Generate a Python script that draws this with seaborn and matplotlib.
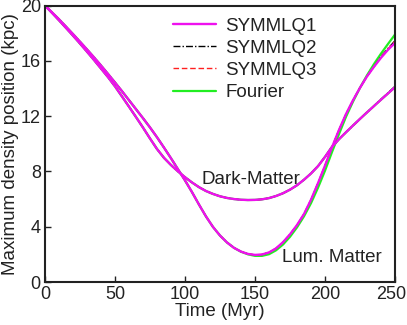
import numpy as np
import pandas as pd
import matplotlib
matplotlib.use("Agg")
import matplotlib.pyplot as plt
import matplotlib.transforms as mtransforms
import seaborn as sns

# ---- data ----
time_myr = [0, 5, 10, 15, 20, 25, 30, 35, 40, 45, 50, 55, 60, 65, 70, 75, 80, 85, 90, 95,
            100, 105, 110, 115, 120, 125, 130, 135, 140, 145, 150, 155, 160, 165, 170, 175,
            180, 185, 190, 195, 200, 205, 210, 215, 220, 225, 230, 235, 240, 245, 250]

dark_symmlq1 = [20.0, 19.47, 18.93, 18.38, 17.82, 17.25, 16.66, 16.06, 15.44, 14.82,
                14.15, 13.42, 12.68, 11.93, 11.17, 10.38, 9.62, 8.98, 8.46, 8.0,
                7.58, 7.2, 6.86, 6.58, 6.37, 6.2, 6.08, 6.0, 5.95, 5.93,
                5.94, 5.98, 6.07, 6.22, 6.42, 6.68, 7.0, 7.4, 7.85, 8.38,
                9.05, 9.78, 10.33, 10.83, 11.32, 11.8, 12.27, 12.73, 13.19, 13.64, 14.1]
lum_symmlq1 = [20.0, 19.5, 19.0, 18.47, 17.93, 17.38, 16.82, 16.25, 15.66, 15.05,
               14.43, 13.8, 13.15, 12.5, 11.85, 11.18, 10.47, 9.72, 8.95, 8.15,
               7.35, 6.5, 5.6, 4.74, 3.98, 3.36, 2.86, 2.47, 2.2, 2.03,
               1.96, 1.99, 2.14, 2.43, 2.88, 3.45, 4.12, 4.92, 5.95, 7.15,
               8.42, 9.75, 11.0, 12.15, 13.15, 14.05, 14.87, 15.57, 16.22, 16.8, 17.3]

dark_symmlq2 = dark_symmlq1[:-3] + [13.22, 13.68, 14.15]
lum_symmlq2 = lum_symmlq1[:-3] + [16.3, 16.9, 17.45]

dark_symmlq3 = list(dark_symmlq1)
lum_symmlq3 = lum_symmlq1[:-3] + [16.28, 16.87, 17.42]

dark_fourier = list(dark_symmlq1)
lum_fourier = lum_symmlq1[:28] + [2.19, 2.0, 1.89, 1.89, 2.01, 2.29, 2.71, 3.27,
                                  3.95, 4.75, 5.7, 6.82, 8.05, 9.4, 10.7, 11.95, 13.05,
                                  14.05, 14.95, 15.77, 16.52, 17.22, 17.9]

series_names = ["SYMMLQ1", "SYMMLQ2", "SYMMLQ3", "Fourier"]
x_ticks = [0, 50, 100, 150, 200, 250]
y_ticks = [0, 4, 8, 12, 16, 20]

# ---- style ----
sns.set_style("ticks")
plt.rcParams["font.family"] = ["Liberation Sans", "DejaVu Sans"]
text_color = "#222222"
fs = 13.5

fig = plt.figure(figsize=(4.07, 3.25), dpi=100)
ax = fig.add_axes([0.1106, 0.1323, 0.8599, 0.8507])

styles = {
    "Fourier": dict(color="#22ee22", lw=1.6, ls="-"),
    "SYMMLQ2": dict(color="black", lw=1.0, ls=(0, (5, 1.5, 1, 1.5))),
    "SYMMLQ3": dict(color="#ff2020", lw=1.0, ls=(0, (4, 2))),
    "SYMMLQ1": dict(color="#ee11ee", lw=1.7, ls="-"),
}
data = {
    "SYMMLQ1": (dark_symmlq1, lum_symmlq1),
    "SYMMLQ2": (dark_symmlq2, lum_symmlq2),
    "SYMMLQ3": (dark_symmlq3, lum_symmlq3),
    "Fourier": (dark_fourier, lum_fourier),
}

handles = {}
for name in ["Fourier", "SYMMLQ2", "SYMMLQ3", "SYMMLQ1"]:
    dark, lum = data[name]
    st = styles[name]
    for comp in (dark, lum):
        df = pd.DataFrame({"t": time_myr, "y": comp})
        sns.lineplot(data=df, x="t", y="y", ax=ax, color=st["color"],
                     linewidth=st["lw"], linestyle=st["ls"])
    handles[name] = ax.lines[-1]

leg = ax.legend([handles[n] for n in series_names], series_names,
                loc="upper left", bbox_to_anchor=(0.366, 0.957), frameon=False,
                fontsize=fs, handlelength=2.3, handletextpad=0.5,
                labelspacing=0.27, borderaxespad=0.0, borderpad=0.0)
for t in leg.get_texts():
    t.set_color(text_color)

ax.text(112, 7.4, "Dark-Matter", fontsize=fs, color=text_color, va="center", ha="left")
ax.text(169, 1.75, "Lum. Matter", fontsize=fs, color=text_color, va="center", ha="left")

ax.set_xlim(0, 250)
ax.set_ylim(0, 20)
ax.set_xticks(x_ticks)
ax.set_yticks(y_ticks)
ax.tick_params(direction="in", length=4, width=1, colors=text_color,
               labelsize=13, pad=3)
# keep the last x tick label inside the canvas
last = ax.get_xticklabels()[-1]
last.set_transform(last.get_transform() +
                   mtransforms.ScaledTranslation(-4 / 100, 0, fig.dpi_scale_trans))
ax.set_xlabel("Time (Myr)", fontsize=fs, color=text_color, labelpad=0)
ax.set_ylabel("Maximum density position (kpc)", fontsize=fs, color=text_color, labelpad=1)
for s in ax.spines.values():
    s.set_visible(True)
    s.set_linewidth(1.5)
    s.set_color("#222222")

fig.savefig("out.png", dpi=100)
